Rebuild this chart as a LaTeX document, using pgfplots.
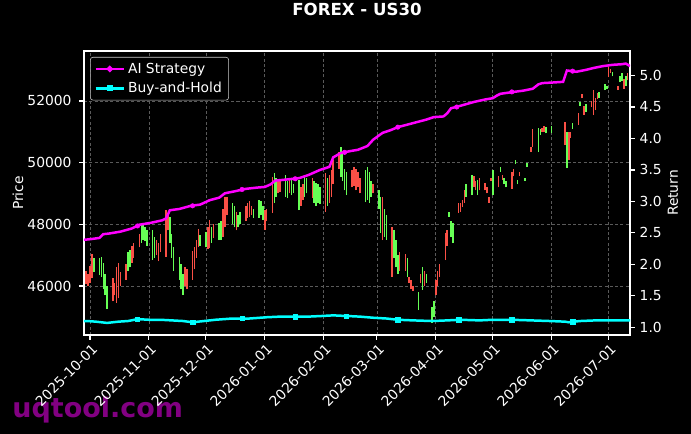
\documentclass[border=0pt]{standalone}
\usepackage{pgfplots}
\pgfplotsset{compat=1.18}
\usepackage{pgfplotstable}
\usepackage{fontspec}
\setmainfont{DejaVu Sans}

\definecolor{candleup}{RGB}{102,255,85}
\definecolor{candledn}{RGB}{250,80,70}
\definecolor{aimag}{RGB}{255,0,255}
\definecolor{bhcyan}{RGB}{0,255,255}
\definecolor{gridgray}{RGB}{90,90,90}
\definecolor{wmpurple}{RGB}{130,0,130}
\definecolor{legedge}{RGB}{204,204,204}

\newcommand{\tenpt}{\fontsize{10}{12}\selectfont}

% x = days since 2025-10-01, lo/hi = candle range
\pgfplotstableread{
x lo hi
2 46450 46900
5 46350 46900
6 46300 46950
7 45900 46750
8 45700 46400
9 45250 46000
20 46500 47100
21 46600 47170
27 47400 48040
28 47500 48000
29 47450 47900
30 47300 47800
33 46850 47800
34 46900 47600
42 47400 48240
43 46900 47700
44 46500 47260
47 46200 46940
48 45900 46700
49 45710 46400
58 47300 47650
61 47250 47750
64 47400 47900
68 47490 48040
69 47500 48100
75 48000 48700
76 47900 48600
78 47900 48300
79 48000 48400
86 48200 48500
89 48200 48790
90 48300 48750
91 48150 48600
97 48700 49650
98 48900 49500
103 48900 49600
104 48850 49400
106 48950 49500
107 49000 49300
110 48460 49430
113 48900 49600
114 49000 49500
118 48700 49400
119 48600 49350
120 48700 49300
121 48650 49200
125 48600 49500
132 49530 50500
133 49400 50300
134 49100 49800
135 48950 49700
145 48720 49760
146 48800 49850
147 48700 49700
148 48900 49400
152 48500 49110
153 47720 48900
155 47600 48500
156 47500 48300
160 46900 47800
161 46600 47500
162 46400 47000
167 46300 46900
173 45220 45800
175 45870 46620
177 46100 46400
180 44800 45320
181 45000 45500
189 48250 48400
190 47600 48100
191 47390 48040
198 48900 49300
201 48950 49600
204 48950 49450
212 48950 49760
216 49700 49850
218 49300 49500
219 49200 49400
224 49950 50100
225 49300 49450
229 49400 49500
230 49850 50000
236 50340 51120
237 50900 51100
240 50950 51150
243 50950 51200
251 49820 50990
254 51100 51300
258 51850 51950
261 51650 51900
268 52100 52300
271 52350 52550
272 52400 52500
275 52800 52950
279 52600 52800
280 52650 52900
282 52500 52800
}\upcandles

\pgfplotstableread{
x lo hi
-2 46050 46500
-1 46000 46400
0 46100 46650
1 46250 47050
12 45500 46250
13 45700 46100
14 45450 46600
15 45600 46750
16 46000 46450
19 46200 46700
22 46750 47300
23 46900 47400
26 47250 47700
35 47000 47500
36 46800 47400
37 47100 47700
40 46950 48460
41 47800 48300
50 46000 46600
51 45900 46550
54 46200 47150
55 46550 47250
56 46900 47500
57 47250 47850
62 47200 47900
63 47230 48140
65 47550 48000
70 47600 48500
71 47900 48880
72 48300 48900
77 47800 48400
82 48100 48600
83 48200 48700
84 48250 48750
85 48300 48600
92 47810 48460
93 48100 48500
96 48370 49530
99 49000 49450
100 49050 49400
105 49000 49450
111 48600 49200
112 48800 49300
117 48850 49500
124 48400 49660
126 48700 49600
127 48900 49750
128 49300 50100
131 49800 50350
138 49200 49750
139 49250 49850
140 49100 49800
141 49200 49700
142 49000 49500
149 49000 49300
154 47490 48880
159 46290 47910
163 46500 47100
166 46500 47050
168 46100 46300
169 45900 46200
170 45850 46000
174 46100 46400
176 46000 46500
182 45700 46200
183 46000 46500
184 46300 46700
187 46840 47720
188 47300 47800
194 48370 48690
195 48400 48700
196 48560 48790
197 48700 49100
202 49200 49550
203 49100 49400
205 49100 49500
208 49100 49350
209 49000 49200
210 48700 48880
211 49400 49500
215 49200 49550
217 49450 49600
222 49150 49700
223 49550 49800
226 49550 49700
232 50340 50500
233 50500 51100
238 51000 51120
239 51000 51200
250 50570 51310
252 50100 50990
253 50800 51000
257 51220 51600
259 52080 52240
260 51550 51850
264 51800 52000
265 51540 52350
266 51700 52100
267 52050 52250
273 52770 53100
274 52900 53050
278 52350 52500
281 52400 52700
283 52670 52900
}\downcandles

\pgfplotsset{
  /pgf/number format/assume math mode=true,
  every tick label/.append style={font=\tenpt, text=white},
  every axis label/.append style={font=\tenpt, text=white},
}

\begin{document}
\begin{tikzpicture}
\path[use as bounding box, fill=black] (-60.48bp,-71.28bp) rectangle (437.04bp,241.2bp);
\node[anchor=base west, inner sep=0pt, text=wmpurple,
      font=\fontsize{19.5}{24}\selectfont\bfseries] at (-51.8bp,-59.5bp) {uqtool.com};

\begin{axis}[
  at={(0,0)}, anchor=south west,
  scale only axis, width=393.12bp, height=204.48bp,
  xmin=-3.16, xmax=284.2,
  ymin=44410, ymax=53620,
  axis line style={white, line width=0.8pt},
  tick style={white, line width=0.8pt},
  tick align=outside, major tick length=3.5pt,
  xtick pos=bottom, ytick pos=left,
  xtick={0,31,61,92,123,151,182,212,243,273},
  xticklabels={2025-10-01,2025-11-01,2025-12-01,2026-01-01,2026-02-01,2026-03-01,2026-04-01,2026-05-01,2026-06-01,2026-07-01},
  xticklabel style={rotate=45, anchor=north east, inner sep=1pt, yshift=-1pt},
  ytick={46000,48000,50000,52000},
  scaled y ticks=false,
  yticklabel style={/pgf/number format/1000 sep={}, xshift=-2pt},
  grid=major,
  grid style={gridgray, dash pattern=on 2.2pt off 1.6pt, line width=0.5pt},
  ylabel={Price},
  ylabel style={at={(axis description cs:-0.121,0.5)}, anchor=center},
  title={FOREX - US30},
  title style={at={(axis description cs:0.5,1.116)}, anchor=center,
               font=\fontsize{12}{14}\selectfont\bfseries, text=white},
]
\addplot[draw=none, mark=none, forget plot,
  error bars/.cd, y dir=plus, y explicit, error mark=none,
  error bar style={draw=candleup, line width=1.1pt}]
  table[x=x, y=lo, y error plus expr=\thisrow{hi}-\thisrow{lo}] {\upcandles};
\addplot[draw=none, mark=none, forget plot,
  error bars/.cd, y dir=plus, y explicit, error mark=none,
  error bar style={draw=candledn, line width=1.1pt}]
  table[x=x, y=lo, y error plus expr=\thisrow{hi}-\thisrow{lo}] {\downcandles};
\end{axis}

\begin{axis}[
  at={(0,0)}, anchor=south west,
  scale only axis, width=393.12bp, height=204.48bp,
  xmin=-3.16, xmax=284.2,
  ymin=0.878, ymax=5.39,
  axis x line=none,
  axis y line*=right,
  axis line style={white, line width=0.8pt, -},
  tick style={white, line width=0.8pt},
  tick align=outside, major tick length=3.5pt,
  ytick={1.0,1.5,2.0,2.5,3.0,3.5,4.0,4.5,5.0},
  yticklabel style={/pgf/number format/.cd, fixed, fixed zerofill, precision=1},
  ylabel={Return},
  ylabel style={at={(axis description cs:1.0788,0.5)}, anchor=center, rotate=0},
  legend style={at={(axis description cs:0.011,0.979)}, anchor=north west,
    fill=black, draw=legedge, rounded corners=2pt, text=white, font=\tenpt,
    inner xsep=3pt, inner ysep=2pt, row sep=1pt},
  legend cell align=left,
  legend image code/.code={\draw[mark repeat=2, mark phase=2]
    plot coordinates {(0cm,0cm) (0.36cm,0cm) (0.72cm,0cm)};},
]
\addplot[aimag, line width=1.8pt, mark=*, mark size=1.3pt,
  mark repeat=500, mark phase=500] coordinates {
(-3.2,2.39) (0,2.40) (5,2.42) (7,2.48) (10,2.49) (16,2.52) (22,2.57)
(26,2.63) (32,2.66) (38,2.70) (40,2.73) (42,2.86) (47,2.88) (53,2.93)
(58,2.95) (63,3.02) (68,3.06) (71,3.13) (76,3.16) (82,3.20) (88,3.22)
(92,3.23) (95,3.27) (97.4,3.33) (104,3.35) (110,3.37) (115,3.42)
(121,3.50) (126,3.55) (128,3.70) (132,3.77) (137,3.80) (141,3.82)
(146,3.88) (149,3.98) (154,4.09) (158,4.13) (162,4.18) (167,4.22)
(172,4.26) (177,4.30) (181,4.34) (186,4.35) (188,4.40) (190,4.48)
(195,4.52) (202,4.58) (208,4.62) (212,4.64) (214,4.68) (216,4.71)
(223,4.74) (228,4.76) (233,4.79) (236,4.86) (238,4.88) (244,4.89)
(249,4.90) (251,5.08) (254,5.07) (256,5.06) (261,5.09) (265,5.12)
(270,5.15) (275,5.17) (280,5.18) (282,5.19) (284.2,5.15)
};
\addlegendentry{AI Strategy}
\addplot[bhcyan, line width=1.8pt, mark=square*, mark size=1.3pt,
  mark repeat=500, mark phase=500] coordinates {
(-3.2,1.10) (-1.6,1.10) (3,1.09) (9,1.07) (15,1.09) (20,1.10) (25,1.13)
(31,1.12) (37,1.12) (43,1.11) (49,1.10) (54,1.08) (60,1.10) (66,1.12)
(75,1.14) (84,1.14) (93,1.16) (100,1.17) (107,1.17) (115,1.17)
(122,1.18) (128,1.19) (135,1.18) (142,1.17) (150,1.15) (156,1.14)
(162,1.12) (170,1.11) (180,1.10) (188,1.11) (195,1.12) (205,1.11)
(212,1.12) (222,1.12) (232,1.11) (242,1.10) (250,1.09) (252,1.08)
(258,1.10) (266,1.11) (275,1.11) (284.2,1.11)
};
\addlegendentry{Buy-and-Hold}
\addplot[only marks, mark=*, mark size=1.6pt, aimag, forget plot] coordinates {
(-3.2,2.39) (25,2.61) (54,2.93) (80,3.19) (108,3.36) (134,3.78)
(162,4.18) (193,4.50) (222,4.74) (254,5.07)
};
\addplot[only marks, mark=square*, mark size=1.6pt, bhcyan, forget plot] coordinates {
(-3.2,1.10) (25,1.13) (54,1.08) (80,1.14) (108,1.17) (135,1.18)
(162,1.12) (194,1.12) (222,1.12) (254,1.09)
};
\end{axis}
\end{tikzpicture}
\end{document}
